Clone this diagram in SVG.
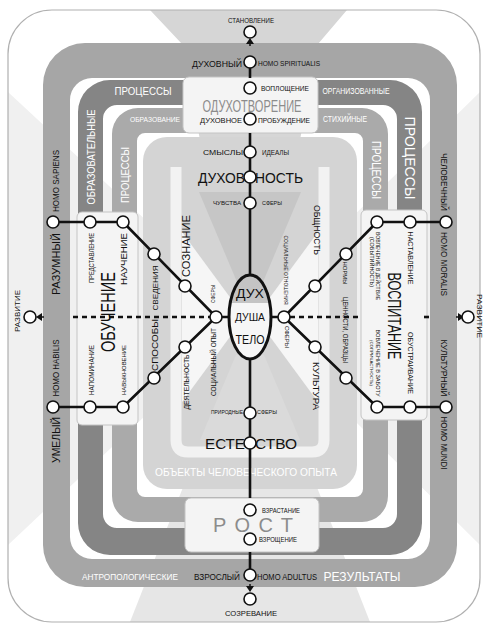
<svg xmlns="http://www.w3.org/2000/svg" width="488" height="627" viewBox="0 0 488 627">
<defs>
<style>
text{font-family:"Liberation Sans","DejaVu Sans",Arial,sans-serif;fill:#111;text-anchor:middle;dominant-baseline:central}
.w{fill:#fff}
.gr{fill:#8c8c8c}
.st{text-anchor:start}
.en{text-anchor:end}
.nd{fill:#fff;stroke:#111;stroke-width:1.6}
.ln{stroke:#111;stroke-width:2.6;fill:none;stroke-linejoin:round}
.dash{stroke:#111;stroke-width:2.6;stroke-dasharray:5 4;fill:none}
.box{fill:#f4f4f4;stroke:#c4c4c4;stroke-width:1}
.ring{fill-rule:evenodd}
</style>
<clipPath id="frame"><rect x="8" y="10" width="472" height="612" rx="44"/></clipPath>
<clipPath id="ell"><ellipse cx="250" cy="317" rx="21" ry="42"/></clipPath>
<marker id="ah" markerWidth="8" markerHeight="8" refX="0" refY="4" orient="auto" markerUnits="userSpaceOnUse"><path d="M0,0 L6,4 L0,8 Z" fill="#111"/></marker>
</defs>

<g id="background">
<rect x="8" y="10" width="472" height="612" rx="44" fill="#fff"/>
<g clip-path="url(#frame)">
<polygon points="150,10 347,10 318,44 300,140 200,140 182,44" fill="#d6d6d6"/>
<polygon points="130,622 370,622 250,317" fill="#e6e6e6"/>
<polygon points="8,92 250,317 8,545" fill="#f0f0f0"/>
<polygon points="480,92 250,317 480,545" fill="#f0f0f0"/>
</g>
<rect x="8" y="10" width="472" height="612" rx="44" fill="none" stroke="#b0b0b0" stroke-width="1.2"/>
</g>

<g id="ring-results">
<path class="ring" fill="#a6a6a6" d="M85,43 H415 A42,42 0 0 1 457,85 V545 A42,42 0 0 1 415,587 H85 A42,42 0 0 1 43,545 V85 A42,42 0 0 1 85,43 Z M92,78 H408 A22,22 0 0 1 430,100 V537 A22,22 0 0 1 408,559 H92 A22,22 0 0 1 70,537 V100 A22,22 0 0 1 92,78 Z"/>
<text x="130" y="577" class="w" font-size="9" textLength="96" lengthAdjust="spacingAndGlyphs">АНТРОПОЛОГИЧЕСКИЕ</text>
<text x="362" y="577" class="w" font-size="12" textLength="77" lengthAdjust="spacingAndGlyphs">РЕЗУЛЬТАТЫ</text>
</g>

<g id="ring-organized">
<path class="ring" fill="#858585" d="M110,80 H390 A32,32 0 0 1 422,112 V523 A32,32 0 0 1 390,555 H110 A32,32 0 0 1 78,523 V112 A32,32 0 0 1 110,80 Z M117,105 H383 A14,14 0 0 1 397,119 V514 A14,14 0 0 1 383,528 H117 A14,14 0 0 1 103,514 V119 A14,14 0 0 1 117,105 Z"/>
<text x="143" y="91" class="w" font-size="10" textLength="57" lengthAdjust="spacingAndGlyphs">ПРОЦЕССЫ</text>
<text x="356" y="91" class="w" font-size="9" textLength="67" lengthAdjust="spacingAndGlyphs">ОРГАНИЗОВАННЫЕ</text>
<text transform="translate(91,157) rotate(-90)" class="w" font-size="11" textLength="95" lengthAdjust="spacingAndGlyphs">ОБРАЗОВАТЕЛЬНЫЕ</text>
<text transform="translate(410,158) rotate(90)" class="w" font-size="15" textLength="83" lengthAdjust="spacingAndGlyphs">ПРОЦЕССЫ</text>
</g>

<g id="ring-spontaneous">
<path class="ring" fill="#aaaaaa" d="M138,108 H362 A26,26 0 0 1 388,134 V496 A26,26 0 0 1 362,522 H138 A26,26 0 0 1 112,496 V134 A26,26 0 0 1 138,108 Z M145,133 H355 A8,8 0 0 1 363,141 V489 A8,8 0 0 1 355,497 H145 A8,8 0 0 1 137,489 V141 A8,8 0 0 1 145,133 Z"/>
<text x="155" y="119" class="w" font-size="8" textLength="50" lengthAdjust="spacingAndGlyphs">ОБРАЗОВАНИЕ</text>
<text x="345" y="119" class="w" font-size="8.5" textLength="44" lengthAdjust="spacingAndGlyphs">СТИХИЙНЫЕ</text>
<text transform="translate(125,175) rotate(-90)" class="w" font-size="11" textLength="56" lengthAdjust="spacingAndGlyphs">ПРОЦЕССЫ</text>
<text transform="translate(376,170) rotate(90)" class="w" font-size="12" textLength="58" lengthAdjust="spacingAndGlyphs">ПРОЦЕССЫ</text>
</g>

<g id="experience">
<rect x="143" y="137" width="214" height="352" rx="24" fill="#d4d4d4"/>
<path d="M176,167 V440 Q176,452 188,452 H312 Q324,452 324,440 V167" fill="none" stroke="#f2f2f2" stroke-width="11"/>
<polygon points="199,192 301,192 263,282 237,282" fill="#c6c6c6"/>
<polygon points="182,232 232,300 232,334 182,402" fill="#f6f6f6"/>
<polygon points="318,232 268,300 268,334 318,402" fill="#f6f6f6"/>
<polygon points="236,355 264,355 300,440 200,440" fill="#dadada"/>
<text x="246" y="472" class="w" font-size="10.5" textLength="182" lengthAdjust="spacingAndGlyphs">ОБЪЕКТЫ ЧЕЛОВЕЧЕСКОГО ОПЫТА</text>
</g>

<g id="box-spirit">
<rect class="box" x="183" y="77" width="135" height="56" rx="6"/>
<text x="252" y="106" class="gr" font-size="16" textLength="99" lengthAdjust="spacingAndGlyphs">ОДУХОТВОРЕНИЕ</text>
</g>
<g id="box-growth">
<rect class="box" x="185" y="498" width="134" height="54" rx="6"/>
<text x="253" y="525" class="gr" font-size="20" textLength="80">РОСТ</text>
</g>
<g id="box-learning">
<rect class="box" x="77" y="212" width="61" height="213" rx="5"/>
<text transform="translate(108,312) rotate(-90)" fill="#9a9a9a" font-size="20" textLength="80" lengthAdjust="spacingAndGlyphs">ОБУЧЕНИЕ</text>
</g>
<g id="box-upbringing">
<rect class="box" x="361" y="210" width="66" height="210" rx="5"/>
<text transform="translate(394,316) rotate(90)" fill="#9a9a9a" font-size="18" textLength="87" lengthAdjust="spacingAndGlyphs">ВОСПИТАНИЕ</text>
</g>

<g id="connectors">
<line class="ln" x1="250" y1="68" x2="250" y2="78"/>
<line class="ln" x1="250" y1="133" x2="250" y2="276"/>
<line class="ln" x1="250" y1="358" x2="250" y2="498"/>
<line class="ln" x1="250" y1="552" x2="250" y2="570"/>
<polyline class="ln" points="53,222 123,222 216,317 229,317"/>
<polyline class="ln" points="53,407 123,407 216,317"/>
<polyline class="ln" points="447,222 377,222 284,317 271,317"/>
<polyline class="ln" points="447,407 377,407 284,317"/>
<line class="dash" x1="73" y1="317" x2="210" y2="317"/>
<line class="dash" x1="290" y1="317" x2="361" y2="317"/>
<line class="dash" x1="424" y1="317" x2="429" y2="317"/>
<line stroke="#111" stroke-width="1.5" x1="250" y1="46" x2="250" y2="44" marker-end="url(#ah)"/>
<line stroke="#111" stroke-width="1.5" x1="250" y1="584" x2="250" y2="586" marker-end="url(#ah)"/>
<line stroke="#111" stroke-width="1.5" x1="44" y1="317" x2="42" y2="317" marker-end="url(#ah)"/>
<line stroke="#111" stroke-width="1.5" x1="456" y1="317" x2="458" y2="317" marker-end="url(#ah)"/>
</g>

<g id="node-core">
<ellipse cx="250" cy="317" rx="21" ry="42" fill="#f6f6f6"/>
<rect x="228" y="274" width="44" height="29" fill="#c4c4c4" clip-path="url(#ell)"/>
<ellipse cx="250" cy="317" rx="21" ry="42" fill="none" stroke="#111" stroke-width="3"/>
<text x="250" y="293" font-size="13" textLength="28" lengthAdjust="spacingAndGlyphs">ДУХ</text>
<text x="250" y="317" font-size="11" textLength="30" lengthAdjust="spacingAndGlyphs">ДУША</text>
<text x="250" y="340" font-size="12" textLength="29" lengthAdjust="spacingAndGlyphs">ТЕЛО</text>
</g>

<g id="node-stanovlenie"><circle class="nd" cx="250" cy="32" r="6"/><text x="251" y="20" font-size="7" textLength="46" lengthAdjust="spacingAndGlyphs">СТАНОВЛЕНИЕ</text></g>
<g id="node-spiritual"><circle class="nd" cx="250" cy="62" r="6"/><text x="242" y="64" class="en" font-size="9" textLength="50" lengthAdjust="spacingAndGlyphs">ДУХОВНЫЙ</text><text x="258" y="63" class="st" font-size="8" textLength="62" lengthAdjust="spacingAndGlyphs">HOMO SPIRITUALIS</text></g>
<g id="node-voploshchenie"><circle class="nd" cx="250" cy="88" r="6"/><text x="261" y="88" class="st" font-size="7" textLength="48" lengthAdjust="spacingAndGlyphs">ВОПЛОЩЕНИЕ</text></g>
<g id="node-probuzhdenie"><circle class="nd" cx="250" cy="119" r="6"/><text x="242" y="120" class="en" font-size="7" textLength="42" lengthAdjust="spacingAndGlyphs">ДУХОВНОЕ</text><text x="258" y="120" class="st" font-size="6.5" textLength="52" lengthAdjust="spacingAndGlyphs">ПРОБУЖДЕНИЕ</text></g>
<g id="node-smysly"><circle class="nd" cx="250" cy="152" r="6"/><text x="243" y="152" class="en" font-size="8" textLength="40" lengthAdjust="spacingAndGlyphs">СМЫСЛЫ</text><text x="262" y="152" class="st" font-size="7" textLength="27" lengthAdjust="spacingAndGlyphs">ИДЕАЛЫ</text></g>
<g id="node-dukhovnost"><circle class="nd" cx="250" cy="177" r="6"/><text x="245" y="177" class="en" font-size="15" textLength="47" lengthAdjust="spacingAndGlyphs">ДУХОВ</text><text x="255" y="177" class="st" font-size="15" textLength="48" lengthAdjust="spacingAndGlyphs">НОСТЬ</text></g>
<g id="node-chuvstva"><circle class="nd" cx="250" cy="203" r="6"/><text x="241" y="203" class="en" font-size="6" textLength="28" lengthAdjust="spacingAndGlyphs">ЧУВСТВА</text><text x="262" y="203" class="st" font-size="6" textLength="20" lengthAdjust="spacingAndGlyphs">СФЕРЫ</text></g>
<g id="node-prirodnye"><circle class="nd" cx="250" cy="413" r="6"/><text x="243" y="412" class="en" font-size="5.5" textLength="32" lengthAdjust="spacingAndGlyphs">ПРИРОДНЫЕ</text><text x="257" y="412" class="st" font-size="6" textLength="20" lengthAdjust="spacingAndGlyphs">СФЕРЫ</text></g>
<g id="node-estestvo"><circle class="nd" cx="250" cy="443" r="6"/><text x="245" y="443" class="en" font-size="15" textLength="40" lengthAdjust="spacingAndGlyphs">ЕСТЕ</text><text x="255" y="443" class="st" font-size="15" textLength="42" lengthAdjust="spacingAndGlyphs">СТВО</text></g>
<g id="node-vzrastanie"><circle class="nd" cx="250" cy="510" r="6"/><text x="262" y="510" class="st" font-size="6.5" textLength="38" lengthAdjust="spacingAndGlyphs">ВЗРАСТАНИЕ</text></g>
<g id="node-vzroshchenie"><circle class="nd" cx="250" cy="539" r="6"/><text x="259" y="539" class="st" font-size="7" textLength="38" lengthAdjust="spacingAndGlyphs">ВЗРОЩЕНИЕ</text></g>
<g id="node-adult"><circle class="nd" cx="250" cy="575" r="6"/><text x="240" y="577" class="en" font-size="8.5" textLength="46" lengthAdjust="spacingAndGlyphs">ВЗРОСЛЫЙ</text><text x="257" y="577" class="st" font-size="8.5" textLength="60" lengthAdjust="spacingAndGlyphs">HOMO ADULTUS</text></g>
<g id="node-sozrevanie"><circle class="nd" cx="250" cy="599" r="6"/><text x="251" y="613" font-size="7.5" textLength="52" lengthAdjust="spacingAndGlyphs">СОЗРЕВАНИЕ</text></g>

<g id="node-razvitie-left"><circle class="nd" cx="30" cy="317" r="6"/><text transform="translate(17,311) rotate(-90)" font-size="7" textLength="42" lengthAdjust="spacingAndGlyphs">РАЗВИТИЕ</text></g>
<g id="node-razvitie-right"><circle class="nd" cx="468" cy="317" r="6"/><text transform="translate(479,316) rotate(90)" font-size="7" textLength="44" lengthAdjust="spacingAndGlyphs">РАЗВИТИЕ</text></g>

<g id="node-sapiens"><circle class="nd" cx="53" cy="222" r="6"/><text transform="translate(56,181) rotate(-90)" font-size="9" textLength="62" lengthAdjust="spacingAndGlyphs">HOMO SAPIENS</text><text transform="translate(56,264) rotate(-90)" font-size="11" textLength="62" lengthAdjust="spacingAndGlyphs">РАЗУМНЫЙ</text></g>
<g id="node-habilis"><circle class="nd" cx="53" cy="407" r="6"/><text transform="translate(56,368) rotate(-90)" font-size="9" textLength="57" lengthAdjust="spacingAndGlyphs">HOMO HABILIS</text><text transform="translate(56,440) rotate(-90)" font-size="11" textLength="46" lengthAdjust="spacingAndGlyphs">УМЕЛЫЙ</text></g>
<g id="node-moralis"><circle class="nd" cx="446" cy="222" r="6"/><text transform="translate(444,182) rotate(90)" font-size="9" textLength="58" lengthAdjust="spacingAndGlyphs">ЧЕЛОВЕЧНЫЙ</text><text transform="translate(444,264) rotate(90)" font-size="9" textLength="64" lengthAdjust="spacingAndGlyphs">HOMO MORALIS</text></g>
<g id="node-mundi"><circle class="nd" cx="446" cy="407" r="6"/><text transform="translate(444,368) rotate(90)" font-size="9" textLength="57" lengthAdjust="spacingAndGlyphs">КУЛЬТУРНЫЙ</text><text transform="translate(444,443) rotate(90)" font-size="9" textLength="53" lengthAdjust="spacingAndGlyphs">HOMO MUNDI</text></g>

<g id="node-predstavlenie"><circle class="nd" cx="90" cy="222" r="6"/><text transform="translate(91,258) rotate(-90)" font-size="7" textLength="50" lengthAdjust="spacingAndGlyphs">ПРЕДСТАВЛЕНИЕ</text></g>
<g id="node-nauchenie"><circle class="nd" cx="123" cy="222" r="6"/><text transform="translate(124,259) rotate(-90)" font-size="9" textLength="52" lengthAdjust="spacingAndGlyphs">НАУЧЕНИЕ</text></g>
<g id="node-svedeniya"><circle class="nd" cx="154" cy="254" r="6"/><text transform="translate(155,288) rotate(-90)" font-size="8" textLength="45" lengthAdjust="spacingAndGlyphs">СВЕДЕНИЯ</text></g>
<g id="node-soznanie"><circle class="nd" cx="185" cy="286" r="6"/><text transform="translate(186,246) rotate(-90)" font-size="11" textLength="62" lengthAdjust="spacingAndGlyphs">СОЗНАНИЕ</text></g>
<g id="node-sfery-left"><circle class="nd" cx="216" cy="317" r="6"/><text transform="translate(213,294) rotate(-90)" font-size="5" textLength="18" lengthAdjust="spacingAndGlyphs">СФЕРЫ</text><text transform="translate(213,362) rotate(-90)" font-size="6.5" textLength="68" lengthAdjust="spacingAndGlyphs">СОЦИАЛЬНЫЙ ОПЫТ</text></g>
<g id="node-napominanie"><circle class="nd" cx="90" cy="407" r="6"/><text transform="translate(91,370) rotate(-90)" font-size="6.5" textLength="50" lengthAdjust="spacingAndGlyphs">НАПОМИНАНИЕ</text></g>
<g id="node-navyki"><circle class="nd" cx="123" cy="407" r="6"/><text transform="translate(124,370) rotate(-90)" font-size="6" textLength="50" lengthAdjust="spacingAndGlyphs">НАВЫКНОВЕНИЕ</text></g>
<g id="node-sposoby"><circle class="nd" cx="154" cy="378" r="6"/><text transform="translate(155,345) rotate(-90)" font-size="9" textLength="52" lengthAdjust="spacingAndGlyphs">СПОСОБЫ</text></g>
<g id="node-deyatelnost"><circle class="nd" cx="185" cy="347" r="6"/><text transform="translate(186,382) rotate(-90)" font-size="7.5" textLength="55" lengthAdjust="spacingAndGlyphs">ДЕЯТЕЛЬНОСТЬ</text></g>

<g id="node-nastavlenie"><circle class="nd" cx="410" cy="222" r="6"/><text transform="translate(410,258) rotate(90)" font-size="7.5" textLength="53" lengthAdjust="spacingAndGlyphs">НАСТАВЛЕНИЕ</text></g>
<g id="node-vovlechenie-1"><circle class="nd" cx="377" cy="222" r="6"/><text transform="translate(378,266) rotate(90)" font-size="5.5" textLength="68" lengthAdjust="spacingAndGlyphs">ВОВЛЕЧЕНИЕ В ДЕЙСТВИЕ</text><text transform="translate(371,262) rotate(90)" font-size="4.5" textLength="50" lengthAdjust="spacingAndGlyphs">(СОБЫТИЙНОСТЬ)</text></g>
<g id="node-normy"><circle class="nd" cx="346" cy="254" r="6"/><text transform="translate(345,273) rotate(90)" font-size="6" textLength="23" lengthAdjust="spacingAndGlyphs">НОРМЫ</text><text transform="translate(345,330) rotate(90)" font-size="6.5" textLength="66" lengthAdjust="spacingAndGlyphs">ЦЕННОСТИ, ОБРАЗЦЫ</text></g>
<g id="node-obshchnost"><circle class="nd" cx="315" cy="286" r="6"/><text transform="translate(317,230) rotate(90)" font-size="9" textLength="50" lengthAdjust="spacingAndGlyphs">ОБЩНОСТЬ</text></g>
<g id="node-sfery-right"><circle class="nd" cx="284" cy="317" r="6"/><text transform="translate(286,270) rotate(90)" font-size="5" textLength="69" lengthAdjust="spacingAndGlyphs">СОЦИАЛЬНЫЕ ОТНОШЕНИЯ</text><text transform="translate(287,337) rotate(90)" font-size="5.5" textLength="22" lengthAdjust="spacingAndGlyphs">СФЕРЫ</text></g>
<g id="node-kultura"><circle class="nd" cx="315" cy="347" r="6"/><text transform="translate(316,386) rotate(90)" font-size="9" textLength="48" lengthAdjust="spacingAndGlyphs">КУЛЬТУРА</text></g>
<g id="node-tsennosti"><circle class="nd" cx="346" cy="378" r="6"/></g>
<g id="node-vovlechenie-2"><circle class="nd" cx="377" cy="407" r="6"/><text transform="translate(378,363) rotate(90)" font-size="5.5" textLength="67" lengthAdjust="spacingAndGlyphs">ВОВЛЕЧЕНИЕ В ЗАБОТУ</text><text transform="translate(371,363) rotate(90)" font-size="4" textLength="46" lengthAdjust="spacingAndGlyphs">(СОПРИЧАСТНОСТЬ)</text></g>
<g id="node-obustroystvo"><circle class="nd" cx="410" cy="407" r="6"/><text transform="translate(410,363) rotate(90)" font-size="6.5" textLength="62" lengthAdjust="spacingAndGlyphs">ОБУСТРАИВАНИЕ</text></g>
</svg>
